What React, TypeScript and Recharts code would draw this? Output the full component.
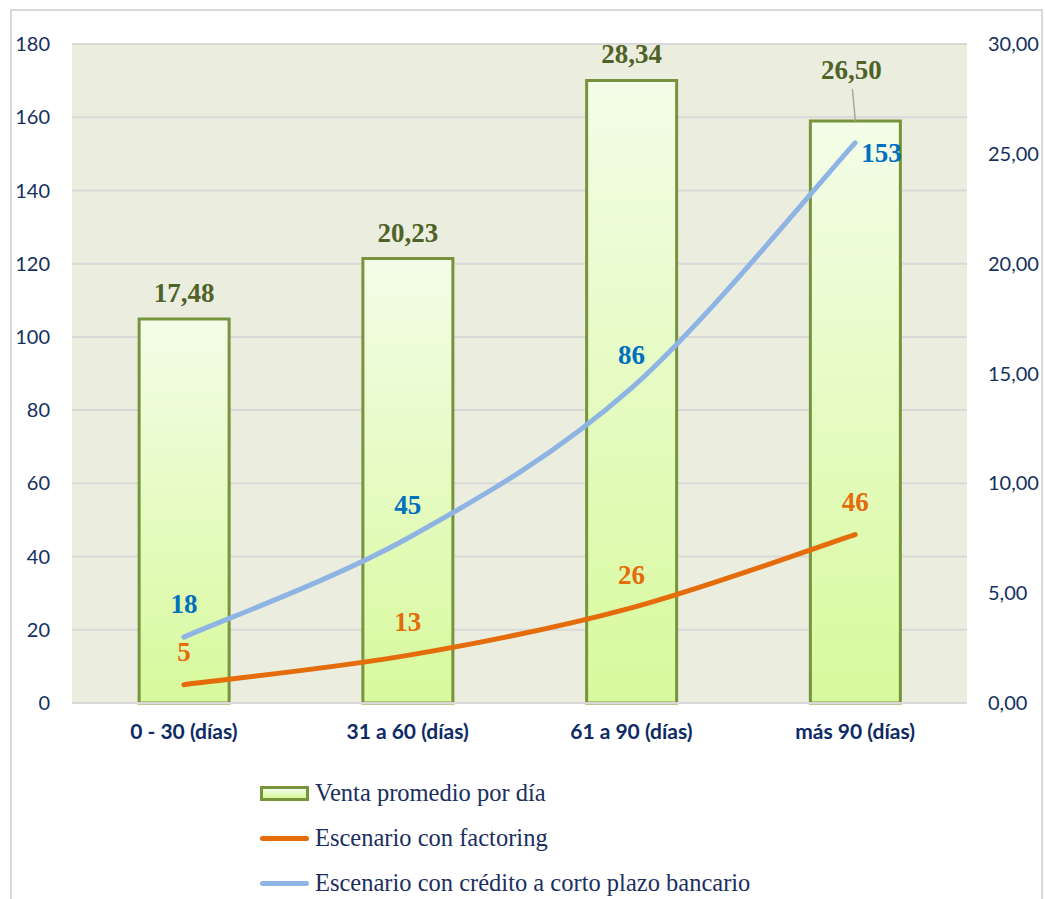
import React from "react";
import {
  Bar,
  CartesianGrid,
  ComposedChart,
  LabelList,
  Line,
  XAxis,
  YAxis,
} from "recharts";

// Categorías de antigüedad de cartera
const categories = ["0 - 30 (días)", "31 a 60 (días)", "61 a 90 (días)", "más 90 (días)"];
// Venta promedio por día (eje derecho)
const ventaPromedio = [17.48, 20.23, 28.34, 26.5];
// Costos por escenario (eje izquierdo)
const factoring = [5, 13, 26, 46];
const creditoBancario = [18, 45, 86, 153];

const leftTicks = [0, 20, 40, 60, 80, 100, 120, 140, 160, 180];
const rightTicks = [0, 5, 10, 15, 20, 25, 30];

const data = categories.map((name, i) => ({
  name,
  venta: ventaPromedio[i],
  factoring: factoring[i],
  credito: creditoBancario[i],
}));

const NAVY = "#14305E";
const fmtComma = (v: number) => v.toFixed(2).replace(".", ",");

// Curva suavizada tipo Catmull-Rom (como las líneas suavizadas de Excel)
const catmullRom = (context: any) => {
  let pts: [number, number][] = [];
  return {
    areaStart() {},
    areaEnd() {},
    lineStart() {
      pts = [];
    },
    point(x: number, y: number) {
      pts.push([+x, +y]);
    },
    lineEnd() {
      if (!pts.length) return;
      context.moveTo(pts[0][0], pts[0][1]);
      for (let i = 0; i < pts.length - 1; i++) {
        const p0 = pts[Math.max(0, i - 1)];
        const p1 = pts[i];
        const p2 = pts[i + 1];
        const p3 = pts[Math.min(pts.length - 1, i + 2)];
        context.bezierCurveTo(
          p1[0] + (p2[0] - p0[0]) / 6,
          p1[1] + (p2[1] - p0[1]) / 6,
          p2[0] - (p3[0] - p1[0]) / 6,
          p2[1] - (p3[1] - p1[1]) / 6,
          p2[0],
          p2[1]
        );
      }
    },
  };
};

const BarValueLabel = (props: any) => {
  const { x, y, width, value, index } = props;
  const cx = Number(x) + Number(width) / 2;
  const top = Number(y);
  const text = fmtComma(Number(value));
  const style = {
    fontFamily: "'Liberation Serif', 'Times New Roman', serif",
    fontWeight: 700,
    fontSize: 27,
    fill: "#4F6228",
  };
  if (index === 3) {
    // etiqueta desplazada con línea guía
    return (
      <g>
        <line x1={cx - 3} y1={top - 32} x2={cx} y2={top} stroke="#A6A6A6" strokeWidth={1.5} />
        <text x={cx - 4} y={top - 42} textAnchor="middle" style={style}>
          {text}
        </text>
      </g>
    );
  }
  return (
    <text x={cx} y={top - 17} textAnchor="middle" style={style}>
      {text}
    </text>
  );
};

const makeLineLabel = (color: string, rightIndex: number) => (props: any) => {
  const { x, y, value, index } = props;
  const style = {
    fontFamily: "'Liberation Serif', 'Times New Roman', serif",
    fontWeight: 700,
    fontSize: 27,
    fill: color,
  };
  if (index === rightIndex) {
    return (
      <text x={Number(x) + 6} y={Number(y) + 19} textAnchor="start" style={style}>
        {value}
      </text>
    );
  }
  return (
    <text x={Number(x)} y={Number(y) - 24} textAnchor="middle" style={style}>
      {value}
    </text>
  );
};

const legendItems = [
  { label: "Venta promedio por día", kind: "bar", color: "#77933C" },
  { label: "Escenario con factoring", kind: "line", color: "#E46C0A" },
  { label: "Escenario con crédito a corto plazo bancario", kind: "line", color: "#8EB4E3" },
];

export default function App() {
  return (
    <div style={{ position: "absolute", left: 0, top: 0, width: 1045, height: 899, background: "#fff", overflow: "hidden" }}>
      <div
        style={{
          position: "absolute",
          left: 10,
          top: 9,
          width: 1033,
          height: 900,
          border: "2px solid #D9D9D9",
          boxSizing: "border-box",
        }}
      />
      <div style={{ position: "absolute", left: 0, top: 0 }}>
        <ComposedChart
          width={1045}
          height={760}
          data={data}
          margin={{ top: 44, right: 0, left: 0, bottom: 0 }}
          barCategoryGap="30%"
        >
          <defs>
            <linearGradient id="barGrad" x1="0" y1="0" x2="0" y2="1">
              <stop offset="0%" stopColor="#F3FDE8" />
              <stop offset="100%" stopColor="#D8F99C" />
            </linearGradient>
          </defs>
          <CartesianGrid
            yAxisId="left"
            vertical={false}
            fill="#EBEEDF"
            stroke="#D9D9D9"
            strokeWidth={2}
          />
          <XAxis
            dataKey="name"
            height={57}
            axisLine={{ stroke: "#D9D9D9", strokeWidth: 2 }}
            tickLine={false}
            tickMargin={15}
            tick={{ fill: "#0E2A66", fontFamily: "Lato", fontWeight: 700, fontSize: 21 }}
          />
          <YAxis
            yAxisId="left"
            orientation="left"
            width={72}
            domain={[0, 180]}
            ticks={leftTicks}
            axisLine={false}
            tickLine={false}
            tickMargin={16}
            tick={{ fill: NAVY, fontFamily: "Lato", fontSize: 20 }}
          />
          <YAxis
            yAxisId="right"
            orientation="right"
            width={78}
            domain={[0, 30]}
            ticks={rightTicks}
            axisLine={false}
            tickLine={false}
            tickMargin={15}
            tickFormatter={fmtComma}
            tick={{ fill: NAVY, fontFamily: "Lato", fontSize: 20 }}
          />
          <Bar
            yAxisId="right"
            dataKey="venta"
            fill="url(#barGrad)"
            stroke="#77933C"
            strokeWidth={3}
            isAnimationActive={false}
          >
            <LabelList dataKey="venta" content={BarValueLabel} />
          </Bar>
          <Line
            yAxisId="left"
            type={catmullRom as any}
            dataKey="factoring"
            stroke="#E46C0A"
            strokeWidth={5}
            strokeLinecap="round"
            dot={false}
            activeDot={false}
            isAnimationActive={false}
          >
            <LabelList dataKey="factoring" content={makeLineLabel("#E46C0A", -1)} />
          </Line>
          <Line
            yAxisId="left"
            type={catmullRom as any}
            dataKey="credito"
            stroke="#8EB4E3"
            strokeWidth={5}
            strokeLinecap="round"
            dot={false}
            activeDot={false}
            isAnimationActive={false}
          >
            <LabelList dataKey="credito" content={makeLineLabel("#0070C0", 3)} />
          </Line>
        </ComposedChart>
      </div>
      {legendItems.map((item, i) => (
        <div
          key={item.label}
          style={{
            position: "absolute",
            left: 260,
            top: 793 + i * 45 - 16,
            height: 32,
            display: "flex",
            alignItems: "center",
          }}
        >
          {item.kind === "bar" ? (
            <div
              style={{
                width: 49,
                height: 15,
                boxSizing: "border-box",
                border: `3px solid ${item.color}`,
                background: "linear-gradient(#F3FDE8, #D8F99C)",
              }}
            />
          ) : (
            <div style={{ width: 49, height: 5, borderRadius: 3, background: item.color }} />
          )}
          <span
            style={{
              marginLeft: 6,
              fontFamily: "'Liberation Serif', 'Times New Roman', serif",
              fontSize: 24.5,
              color: "#1B2F5E",
              whiteSpace: "nowrap",
            }}
          >
            {item.label}
          </span>
        </div>
      ))}
    </div>
  );
}
